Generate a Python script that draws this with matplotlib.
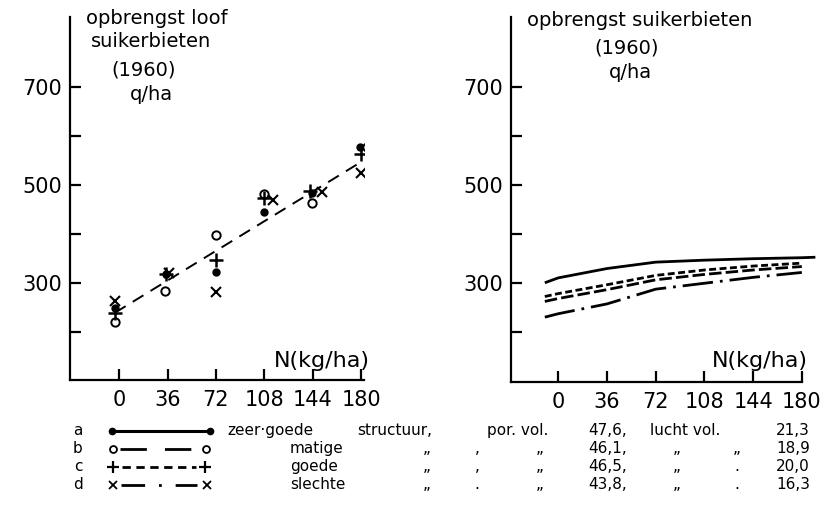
import numpy as np
import matplotlib
matplotlib.use("Agg")
import matplotlib.pyplot as plt

plt.rcParams['font.family'] = ['DejaVu Sans']
plt.rcParams['lines.scale_dashes'] = False

# ---- data ------------------------------------------------------------------
N = [0, 36, 72, 108, 144, 180]
N_ticks = ['0', '36', '72', '108', '144', '180']
y_ticks = [200, 300, 400, 500, 600, 700]
y_ticklabels = ['', '300', '', '500', '', '700']

# left panel: loof yield per structure class (q/ha), slightly shifted x as drawn
loof_a_x = [-3, 35, 72, 108, 143, 179]
loof_a = [249, 319, 322, 446, 483, 578]
loof_b_x = [-3, 34, 72, 108, 143, 184]
loof_b = [222, 284, 398, 481, 463, 578]
loof_c_x = [-3, 35, 72, 108, 142, 180]
loof_c = [239, 318, 347, 473, 488, 563]
loof_d_x = [-3, 37, 72, 114, 151, 180]
loof_d = [263, 320, 283, 470, 486, 525]
fit_x = [-3, 178]
fit_y = [240, 544]

# right panel: beet yield curves (q/ha)
biet_x = [-10, 0, 36, 72, 108, 144, 180]
biet_a_x = [-10, 0, 36, 72, 108, 144, 180, 190]
biet_a = [301, 311, 330, 343, 347, 350, 352, 353]
biet_b = [263, 269, 287, 307, 318, 327, 334]
biet_c = [273, 279, 297, 316, 327, 335, 341]
biet_d = [231, 238, 258, 288, 300, 312, 322]

# legend table
leg_letters = ['a', 'b', 'c', 'd']
leg_names = ['matige', 'goede', 'slechte']
leg_col1 = ['„', '„', '„']
leg_col2 = [',', ',', '.']
leg_col3 = ['„', '„', '„']
leg_por = ['46,1,', '46,5,', '43,8,']
leg_col4 = ['„', '„', '„']
leg_col5 = ['„', '.', '.']
leg_lucht = ['18,9', '20,0', '16,3']

# ---- figure ----------------------------------------------------------------
W, H = 827, 513
fig = plt.figure(figsize=(W / 100, H / 100), dpi=100)


def px_axes(x0, y0, x1, y1):
    return fig.add_axes([x0 / W, 1 - y1 / H, (x1 - x0) / W, (y1 - y0) / H])


def style(ax):
    for s in ['top', 'right']:
        ax.spines[s].set_visible(False)
    for s in ['left', 'bottom']:
        ax.spines[s].set_linewidth(1.6)
    ax.set_yticks(y_ticks)
    ax.set_yticklabels(y_ticklabels, fontsize=15)
    ax.set_xticks(N)
    ax.set_xticklabels(N_ticks, fontsize=15)
    ax.tick_params(axis='both', direction='in', width=1.6, length=8)
    ax.tick_params(axis='y', pad=6)
    ax.tick_params(axis='x', pad=7)


# left panel
ax1 = px_axes(70, 17, 364, 380)
ax1.set_xlim(-36.4, 181.9)
ax1.set_ylim(103, 842)
style(ax1)
ax1.plot(fit_x, fit_y, color='black', lw=1.4, dashes=(9, 6))
ax1.plot(loof_a_x, loof_a, 'o', color='black', ms=5)
ax1.plot(loof_b_x, loof_b, 'o', mfc='white', mec='black', mew=1.4, ms=6)
ax1.plot(loof_c_x, loof_c, '+', color='black', mew=1.8, ms=10)
ax1.plot(loof_d_x, loof_d, 'x', color='black', mew=1.5, ms=7)

# right panel
ax2 = px_axes(511, 17, 817, 382)
ax2.set_xlim(-35, 191.2)
ax2.set_ylim(99, 842)
style(ax2)
ax2.spines['bottom'].set_bounds(-35, 180)
ax2.plot(biet_a_x, biet_a, color='black', lw=2.0, solid_capstyle='butt')
ax2.plot(biet_x, biet_b, color='black', lw=2.0, dashes=(9, 3))
ax2.plot(biet_x, biet_c, color='black', lw=2.0, dashes=(5, 2.5))
ax2.plot(biet_x, biet_d, color='black', lw=2.0, dashes=(22, 5, 2, 5))

# overlay in pixel coordinates for titles and the legend table
ov = fig.add_axes([0, 0, 1, 1])
ov.set_xlim(0, W)
ov.set_ylim(H, 0)
ov.axis('off')
ov.patch.set_visible(False)
ov.set_zorder(5)

tk = dict(fontsize=14, va='baseline', ha='center')
ov.text(157, 24, 'opbrengst loof', **tk)
ov.text(151, 47, 'suikerbieten', **tk)
ov.text(144, 76, '(1960)', **tk)
ov.text(151, 100, 'q/ha', **tk)
ov.text(640, 26, 'opbrengst suikerbieten', **tk)
ov.text(627, 53, '(1960)', **tk)
ov.text(630, 78, 'q/ha', **tk)
ov.text(370, 367, 'N(kg/ha)', fontsize=16, va='baseline', ha='right')
ov.text(808, 367, 'N(kg/ha)', fontsize=16, va='baseline', ha='right')

# legend
base = [435, 453, 471, 489]
liney = [431, 449, 467, 485]
fs = 11
for i, l in enumerate(leg_letters):
    ov.text(78, base[i], l, fontsize=fs, va='baseline', ha='center')

ov.plot([112, 210], [liney[0]] * 2, color='black', lw=2.2, marker='o', ms=4.5)
ov.plot([120, 198], [liney[1]] * 2, color='black', lw=2.0, dashes=(19, 13))
ov.plot([113, 206], [liney[1]] * 2, 'o', mfc='white', mec='black', mew=1.3, ms=5)
ov.plot([122, 196], [liney[2]] * 2, color='black', lw=2.0, dashes=(6, 4))
ov.plot([113, 205], [liney[2]] * 2, '+', color='black', mew=1.6, ms=9)
ov.plot([121, 197], [liney[3]] * 2, color='black', lw=2.0, dashes=(17, 10, 2, 10))
ov.plot([113, 207], [liney[3]] * 2, 'x', color='black', mew=1.3, ms=6)

tl = dict(fontsize=fs, va='baseline', ha='left')
ov.text(227, base[0], 'zeer·goede', **tl)
ov.text(357, base[0], 'structuur,', **tl)
ov.text(487, base[0], 'por. vol.', **tl)
ov.text(588, base[0], '47,6,', **tl)
ov.text(650, base[0], 'lucht vol.', **tl)
ov.text(810, base[0], '21,3', fontsize=fs, va='baseline', ha='right')

tc = dict(fontsize=fs, va='baseline', ha='center')
for i in range(3):
    b = base[i + 1]
    ov.text(290, b, leg_names[i], **tl)
    ov.text(427, b, leg_col1[i], **tc)
    ov.text(477, b, leg_col2[i], **tc)
    ov.text(540, b, leg_col3[i], **tc)
    ov.text(588, b, leg_por[i], **tl)
    ov.text(677, b, leg_col4[i], **tc)
    ov.text(737, b, leg_col5[i], **tc)
    ov.text(810, b, leg_lucht[i], fontsize=fs, va='baseline', ha='right')

fig.savefig('out.png', dpi=100)
